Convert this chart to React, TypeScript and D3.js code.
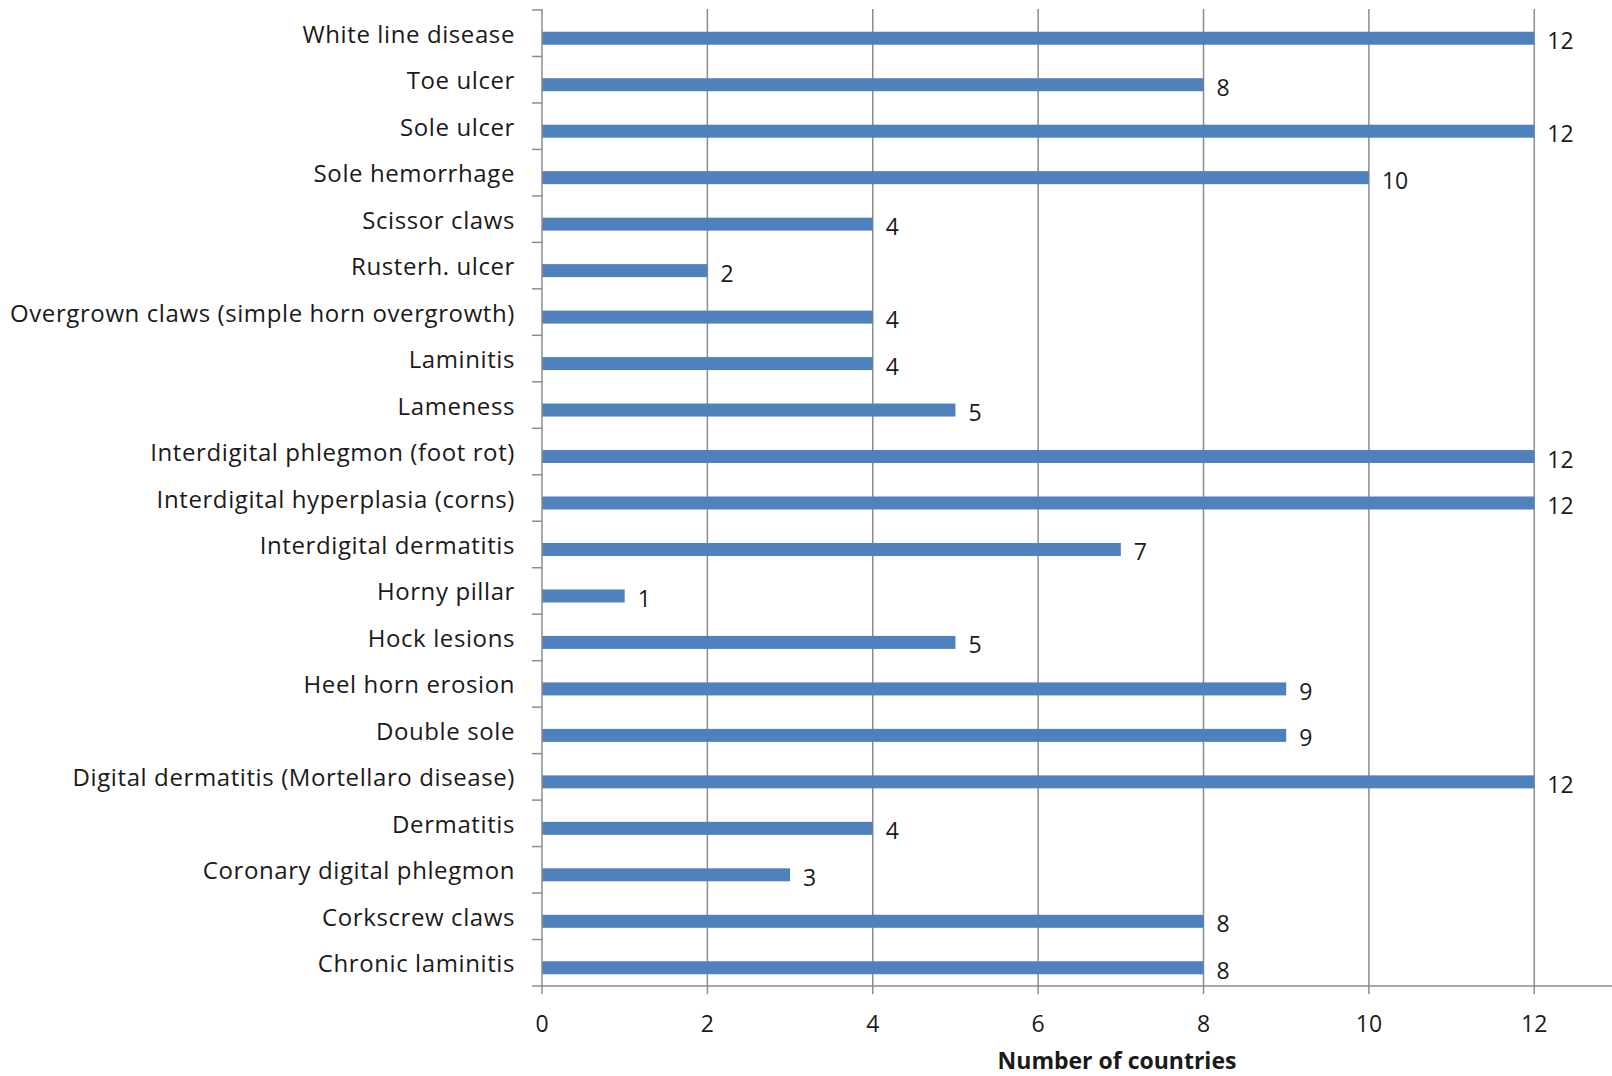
import React from "react";
import * as d3 from "d3";

const categories = [
  "White line disease",
  "Toe ulcer",
  "Sole ulcer",
  "Sole hemorrhage",
  "Scissor claws",
  "Rusterh. ulcer",
  "Overgrown claws (simple horn overgrowth)",
  "Laminitis",
  "Lameness",
  "Interdigital phlegmon (foot rot)",
  "Interdigital hyperplasia (corns)",
  "Interdigital dermatitis",
  "Horny pillar",
  "Hock lesions",
  "Heel horn erosion",
  "Double sole",
  "Digital dermatitis (Mortellaro disease)",
  "Dermatitis",
  "Coronary digital phlegmon",
  "Corkscrew claws",
  "Chronic laminitis",
];

const values = [12, 8, 12, 10, 4, 2, 4, 4, 5, 12, 12, 7, 1, 5, 9, 9, 12, 4, 3, 8, 8];

const xTicks = [0, 2, 4, 6, 8, 10, 12];
const xTitle = "Number of countries";

const W = 1612;
const H = 1076;
const FONT = "'Open Sans', 'Noto Sans', sans-serif";

export default function App() {
  const left = 542;
  const right = 1612;
  const top = 9;
  const bottom = 986;

  const x = d3.scaleLinear().domain([0, 12.94]).range([left, right]);
  const y = d3
    .scaleBand<string>()
    .domain(categories)
    .range([top + 1, bottom])
    .paddingInner(0)
    .paddingOuter(0);

  const bw = y.bandwidth();
  const barH = 13;
  const barOffset = 5;
  const gridColor = "#8c8c8c";
  const textColor = "#1a1a1a";
  const fs = 23;
  const labelFs = 24;

  const boundaries = categories.map((c) => y(c) as number).concat([bottom]);

  return (
    <svg
      width={W}
      height={H}
      style={{ position: "absolute", left: 0, top: 0, background: "#fff" }}
      fontFamily={FONT}
    >
      {xTicks.slice(1).map((t) => (
        <line key={"g" + t} x1={x(t)} x2={x(t)} y1={top} y2={bottom} stroke={gridColor} strokeWidth={1.5} />
      ))}
      {categories.map((c, i) => {
        const cy = (y(c) as number) + bw / 2 + barOffset;
        return (
          <rect
            key={"b" + i}
            x={x(0)}
            y={cy - barH / 2}
            width={x(values[i]) - x(0)}
            height={barH}
            fill="#4F81BD"
          />
        );
      })}
      {categories.map((c, i) => {
        const cy = (y(c) as number) + bw / 2 + barOffset;
        return (
          <text
            key={"v" + i}
            x={x(values[i]) + 13}
            y={cy + 2}
            dominantBaseline="central"
            fontSize={fs}
            fill={textColor}
          >
            {values[i]}
          </text>
        );
      })}
      <line x1={left} x2={left} y1={top} y2={bottom} stroke={gridColor} strokeWidth={1.5} />
      {boundaries.map((b, i) => (
        <line key={"yt" + i} x1={left - 10} x2={left} y1={b} y2={b} stroke={gridColor} strokeWidth={1.5} />
      ))}
      {categories.map((c, i) => (
        <text
          key={"l" + i}
          x={515}
          y={(y(c) as number) + bw / 2}
          textAnchor="end"
          dominantBaseline="central"
          fontSize={labelFs}
          letterSpacing={0.6}
          fill={textColor}
        >
          {c}
        </text>
      ))}
      <line x1={left} x2={right} y1={bottom} y2={bottom} stroke={gridColor} strokeWidth={1.5} />
      {xTicks.map((t) => (
        <g key={"xt" + t}>
          <line x1={x(t)} x2={x(t)} y1={bottom} y2={bottom + 8} stroke={gridColor} strokeWidth={1.5} />
          <text
            x={x(t)}
            y={1023}
            textAnchor="middle"
            dominantBaseline="central"
            fontSize={fs}
            fill={textColor}
          >
            {t}
          </text>
        </g>
      ))}
      <text
        x={1117}
        y={1069}
        textAnchor="middle"
        fontSize={fs}
        fontWeight="bold"
        fill={textColor}
      >
        {xTitle}
      </text>
    </svg>
  );
}
